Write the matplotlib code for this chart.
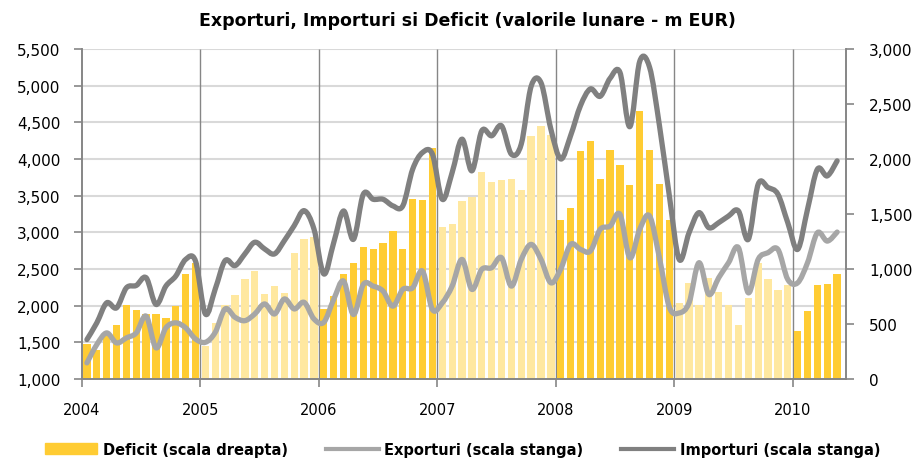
import numpy as np
import matplotlib
matplotlib.use("Agg")
import matplotlib.pyplot as plt
from matplotlib.path import Path
from matplotlib.patches import PathPatch, Patch
from matplotlib.lines import Line2D

# monthly values, Jan 2004 .. May 2010
years = ["2004", "2005", "2006", "2007", "2008", "2009", "2010"]

deficit = [322, 267, 404, 495, 668, 628, 586, 592, 550, 665, 950, 1050,
           300, 509, 673, 764, 909, 985, 773, 845, 782, 1145, 1273, 1294,
           636, 753, 950, 1051, 1199, 1178, 1233, 1345, 1178, 1634, 1628, 2104,
           1382, 1406, 1619, 1655, 1883, 1792, 1807, 1816, 1715, 2211, 2302, 2217,
           1445, 1558, 2071, 2165, 1819, 2080, 1943, 1764, 2435, 2080, 1773, 1445,
           692, 868, 674, 917, 786, 674, 486, 735, 1057, 905, 805, 850,
           440, 622, 853, 865, 956]

exporturi = [1219, 1469, 1628, 1492, 1560, 1628, 1856, 1424, 1697, 1765, 1697, 1545,
             1500, 1636, 1955, 1841, 1795, 1886, 2023, 1886, 2091, 1955, 2045, 1818,
             1773, 2084, 2335, 1879, 2289, 2266, 2198, 1993, 2221, 2243, 2471, 1947,
             2038, 2266, 2630, 2221, 2494, 2517, 2653, 2266, 2630, 2835, 2630, 2311,
             2500, 2835, 2767, 2744, 3040, 3085, 3245, 2653, 3040, 3222, 2650, 1980,
             1900, 2038, 2585, 2153, 2380, 2585, 2790, 2175, 2630, 2722, 2767, 2357,
             2311, 2585, 2994, 2880, 3003]

importuri = [1537, 1765, 2038, 1970, 2243, 2275, 2380, 2016, 2266, 2403, 2630, 2608,
             1886, 2227, 2614, 2545, 2705, 2864, 2773, 2705, 2886, 3091, 3295, 3045,
             2432, 2858, 3291, 2904, 3519, 3450, 3450, 3360, 3360, 3860, 4088, 4065,
             3450, 3815, 4270, 3838, 4384, 4316, 4452, 4065, 4202, 4990, 5040, 4407,
             4000, 4318, 4727, 4955, 4855, 5100, 5180, 4440, 5330, 5250, 4455, 3500,
             2630, 2994, 3268, 3063, 3131, 3222, 3291, 2904, 3655, 3610, 3519, 3131,
             2767, 3313, 3860, 3769, 3974]

DARK = "#FFCC33"
LIGHT = "#FFE8A0"
C_EXP = "#A6A6A6"
C_IMP = "#808080"
AXC = "#868686"

plt.rcParams["font.family"] = ["DejaVu Sans"]


def smooth_path(x, y):
    # excel-like smoothed line, catmull-rom segments as cubic beziers
    pts = np.column_stack([x, y]).astype(float)
    n = len(pts)
    verts = [pts[0]]
    codes = [Path.MOVETO]
    for i in range(n - 1):
        p0 = pts[i - 1] if i > 0 else pts[i]
        p1 = pts[i]
        p2 = pts[i + 1]
        p3 = pts[i + 2] if i + 2 < n else pts[i + 1]
        verts += [p1 + (p2 - p0) / 6.0, p2 - (p3 - p1) / 6.0, p2]
        codes += [Path.CURVE4] * 3
    return Path(verts, codes)


n = len(deficit)
x = np.arange(n)
bar_colors = [DARK if (i // 12) % 2 == 0 else LIGHT for i in range(n)]

fig = plt.figure(figsize=(9.16, 4.6), dpi=100)
ax = fig.add_axes([0.0895, 0.174, 0.8341, 0.7174])   # bars, right scale
axl = ax.twinx()                                      # lines, left scale
axl.yaxis.tick_left()
ax.yaxis.tick_right()
axl.set_zorder(ax.get_zorder() + 1)
axl.patch.set_visible(False)

xlim = (-0.5, n - 0.1)
ax.set_xlim(*xlim)
ax.set_ylim(0, 3000)
axl.set_ylim(1000, 5500)

left_ticks = np.arange(1000, 5501, 500)
# horizontal gridlines follow the left scale, drawn behind the bars
ax.hlines(left_ticks[1:], xlim[0], xlim[1], transform=axl.transData,
          colors="#D9D9D9", linewidth=1.5, zorder=0)
year_pos = np.arange(len(years)) * 12 - 0.5
ax.vlines(year_pos[1:], 0, 3000, colors=AXC, linewidth=1.0, zorder=1)

ax.bar(x, deficit, width=0.74, color=bar_colors, zorder=2)

axl.add_patch(PathPatch(smooth_path(x, exporturi), fill=False, edgecolor=C_EXP,
                        linewidth=3.8, capstyle="round", joinstyle="round", zorder=3))
axl.add_patch(PathPatch(smooth_path(x, importuri), fill=False, edgecolor=C_IMP,
                        linewidth=3.8, capstyle="round", joinstyle="round", zorder=4))

axl.set_yticks(left_ticks)
axl.set_yticklabels([f"{v:,}" for v in left_ticks])
ax.set_yticks(np.arange(0, 3001, 500))
ax.set_yticklabels([f"{v:,}" for v in range(0, 3001, 500)])
ax.set_xticks(year_pos)
ax.set_xticklabels(years)

for a in (ax, axl):
    for s in a.spines.values():
        s.set_color(AXC)
        s.set_linewidth(1.2)
    a.spines["top"].set_visible(False)
    a.tick_params(colors=AXC, labelcolor="black", labelsize=11, length=5.5, width=1.2)
ax.tick_params(axis="y", pad=11)
axl.tick_params(axis="y", pad=10)
ax.tick_params(axis="x", labelsize=10.5, pad=11)

fig.suptitle("Exporturi, Importuri si Deficit (valorile lunare - m EUR)",
             fontsize=12.5, fontweight="bold", x=0.51, y=0.975)

handles = [Patch(color=DARK), Line2D([], [], color=C_EXP, linewidth=3),
           Line2D([], [], color=C_IMP, linewidth=3)]
labels = ["Deficit (scala dreapta)", "Exporturi (scala stanga)", "Importuri (scala stanga)"]
fig.legend(handles, labels, loc="lower center", ncol=3, frameon=False,
           bbox_to_anchor=(0.505, -0.024), prop={"size": 10.5, "weight": "bold"},
           handlelength=3.6, handleheight=0.8, columnspacing=2.6, handletextpad=0.4)

fig.savefig("out.png", dpi=100)
